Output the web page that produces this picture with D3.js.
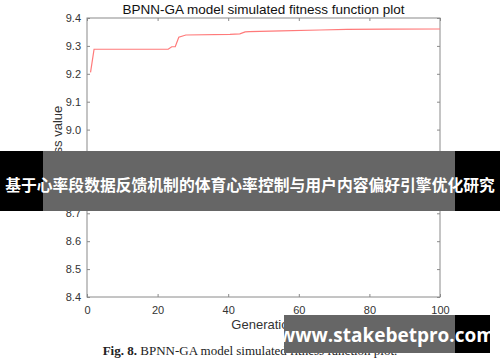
<!DOCTYPE html>
<html>
<head>
<meta charset="utf-8">
<script src="https://cdn.jsdelivr.net/npm/d3@7"></script>
<style>
  body { margin: 0; background: #fff; }
  svg { display: block; }
</style>
</head>
<body>
<svg id="chart" width="500" height="362"></svg>
<script>
// values
var generations = [1, 2, 23, 24, 25, 26, 28, 40.5, 43.3, 44.8, 46, 55, 66, 73.6, 85, 100];
var fitness = [9.205, 9.288, 9.288, 9.297, 9.297, 9.331, 9.339, 9.341, 9.343, 9.350, 9.351, 9.354, 9.357, 9.3595, 9.360, 9.3605];
var xTicks = [0, 20, 40, 60, 80, 100];
var yTicks = [8.4, 8.5, 8.6, 8.7, 8.8, 8.9, 9.0, 9.1, 9.2, 9.3, 9.4];

var titleText = "BPNN-GA model simulated fitness function plot";
var xLabel = "Generation";
var yLabel = "Fitness value";
var bannerText = "基于心率段数据反馈机制的体育心率控制与用户内容偏好引擎优化研究";
var siteText = "www.stakebetpro.com";

var margin = {top: 18, left: 87};
var width = 353, height = 279;
var axisColor = "#8a8a8a", textColor = "#333";

var svg = d3.select("#chart");
var g = svg.append("g").attr("transform", "translate(" + margin.left + "," + margin.top + ")");

var x = d3.scaleLinear().domain([0, 100]).range([0, width]);
var y = d3.scaleLinear().domain([8.4, 9.4]).range([height, 0]);

function styleAxis(sel, showText) {
  sel.select(".domain").remove();
  sel.selectAll("line").attr("stroke", axisColor);
  sel.selectAll("text")
    .attr("fill", textColor)
    .style("font-family", "Liberation Sans, Arial, sans-serif")
    .style("font-size", "11px");
  if (!showText) sel.selectAll("text").remove();
}

// bottom / left with labels, top / right with ticks only (all inward)
g.append("g").attr("transform", "translate(0," + height + ")")
  .call(d3.axisBottom(x).tickValues(xTicks).tickSize(-3).tickPadding(9))
  .call(styleAxis, true);
g.append("g")
  .call(d3.axisTop(x).tickValues(xTicks).tickSize(-3))
  .call(styleAxis, false);
g.append("g")
  .call(d3.axisLeft(y).tickValues(yTicks).tickSize(-3).tickPadding(6).tickFormat(d3.format(".1f")))
  .call(styleAxis, true);
g.append("g").attr("transform", "translate(" + width + ",0)")
  .call(d3.axisRight(y).tickValues(yTicks).tickSize(-3))
  .call(styleAxis, false);

g.append("rect")
  .attr("width", width).attr("height", height)
  .attr("fill", "none").attr("stroke", axisColor).attr("stroke-width", 1);

var points = generations.map(function(d, i) { return [d, fitness[i]]; });
var line = d3.line().x(d => x(d[0])).y(d => y(d[1]));
g.append("path")
  .attr("d", line(points))
  .attr("fill", "none")
  .attr("stroke", "#ff7a7a")
  .attr("stroke-width", 1.2);

svg.append("text")
  .attr("x", margin.left + width / 2).attr("y", 14)
  .attr("text-anchor", "middle")
  .attr("fill", "#111")
  .style("font-family", "Liberation Sans, Arial, sans-serif")
  .style("font-size", "13.5px")
  .text(titleText);

svg.append("text")
  .attr("x", margin.left + width / 2).attr("y", 329)
  .attr("text-anchor", "middle")
  .attr("fill", textColor)
  .style("font-family", "Liberation Sans, Arial, sans-serif")
  .style("font-size", "13px")
  .text(xLabel);

svg.append("text")
  .attr("transform", "translate(62,144) rotate(-90)")
  .attr("text-anchor", "middle")
  .attr("fill", textColor)
  .style("font-family", "Liberation Sans, Arial, sans-serif")
  .style("font-size", "13px")
  .text(yLabel);

// figure caption
var cap = svg.append("text")
  .attr("x", 250).attr("y", 355)
  .attr("text-anchor", "middle")
  .attr("fill", "#222")
  .style("font-family", "Liberation Serif, Times New Roman, serif")
  .style("font-size", "13px");
cap.append("tspan").attr("font-weight", "bold").text("Fig. 8.");
cap.append("tspan").text(" " + titleText + ".");

// banner overlay
svg.append("rect").attr("x", 0).attr("y", 151).attr("width", 500).attr("height", 60).attr("fill", "#000");
svg.append("rect").attr("x", 43).attr("y", 151).attr("width", 412).attr("height", 60).attr("fill", "#fff").attr("opacity", 0.4);
svg.append("text")
  .attr("x", 250).attr("y", 191)
  .attr("text-anchor", "middle")
  .attr("fill", "#fff")
  .attr("font-weight", "bold")
  .style("font-family", "Noto Sans CJK SC, sans-serif")
  .style("font-size", "15.8px")
  .text(bannerText);

// site watermark
svg.append("rect").attr("x", 284).attr("y", 315).attr("width", 206).attr("height", 38).attr("fill", "#000");
svg.append("rect").attr("x", 284).attr("y", 315).attr("width", 171).attr("height", 38).attr("fill", "#fff").attr("opacity", 0.4);
svg.append("text")
  .attr("x", 387).attr("y", 342)
  .attr("text-anchor", "middle")
  .attr("fill", "#fff")
  .attr("font-weight", "bold")
  .style("font-family", "Open Sans, DejaVu Sans, sans-serif")
  .style("font-size", "19px")
  .text(siteText);
</script>
</body>
</html>
